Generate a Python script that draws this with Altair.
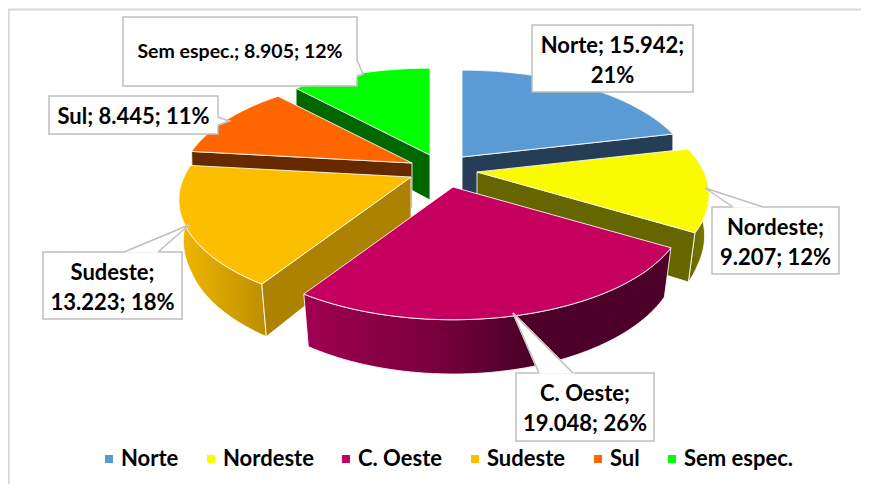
import math
import altair as alt
import pandas as pd

names = ["Norte", "Nordeste", "C. Oeste", "Sudeste", "Sul", "Sem espec."]
values = [15942, 9207, 19048, 13223, 8445, 8905]
face_colors = ["#5B9BD5", "#FAFA00", "#C6005F", "#FBBF00", "#FF6600", "#00FF00"]
wall_colors = ["#253E55", "#666600", "#4D0028", "#AD8200", "#662900", "#006600"]
label_lines = [
    ["Norte; 15.942;", "21%"],
    ["Nordeste;", "9.207; 12%"],
    ["C. Oeste;", "19.048; 26%"],
    ["Sudeste;", "13.223; 18%"],
    ["Sul; 8.445; 11%"],
    ["Sem espec.; 8.905; 12%"],
]
label_sizes = [22, 22, 22, 22, 22, 19.5]

# layout (page pixels)
apex = [(462, 157), (477, 172), (453, 187), (411, 177), (412, 163), (430, 155)]
boxes = [(532, 25, 693, 92), (712, 207, 839, 274), (516, 373, 654, 441),
         (43, 252, 182, 319), (49, 96, 218, 134), (123, 17, 357, 86)]
wedges = [None, [(763, 207), (705, 188), (733, 207)], [(539, 373), (513, 313), (573, 373)],
          [(124, 252), (189, 225), (158, 252)], [(218, 117), (229, 121), (218, 125)],
          [(357, 60), (363, 74), (357, 76)]]
draw_order = [5, 0, 4, 1, 3, 2]
rim_gradients = {
    2: [(0, "#A00050"), (0.38, "#75003B"), (0.6, "#4D0028"), (1, "#4D0028")],
    3: [(0, "#F2B600"), (0.6, "#D0A000"), (1, "#BC8E00")],
    1: [(0, "#666600"), (1, "#7C7C00")],
}
A, B, K, D = 227, 105, 0.209, 45
W, H = 853, 476
FONT = "Lato"

x_scale = alt.Scale(domain=[8, 8 + W], range=[0, W], zero=False, nice=False)
y_scale = alt.Scale(domain=[8 + H, 8], range=[H, 0], zero=False, nice=False)
X = alt.X("x:Q", scale=x_scale, axis=None)
Y = alt.Y("y:Q", scale=y_scale, axis=None)


def rim(ax, ay, th, bottom=False):
    s, c = math.sin(th), -math.cos(th)
    f = 1 / (1 - K * c)
    x, y = A * s * f, B * c * f
    if bottom:
        x *= 1 - 0.03 * min(1, max(0, (c + 0.2) / 0.6))
        y = y * 1.07 + D
    return ax + x, ay + y


def arc(ax, ay, t0, t1, bottom=False):
    n = max(2, int(abs(t1 - t0) / math.radians(1.5)))
    return [rim(ax, ay, t0 + (t1 - t0) * i / n, bottom) for i in range(n + 1)]


def frame(points):
    return pd.DataFrame({"x": [p[0] for p in points], "y": [p[1] for p in points], "i": range(len(points))})


def poly(points, **mark):
    return alt.Chart(frame(list(points) + [points[0]])).mark_line(**mark).encode(x=X, y=Y, order="i:Q")


total = sum(values)
starts = []
acc = 0
for v in values:
    starts.append(acc / total * 2 * math.pi)
    acc += v

layers = []
edge = dict(stroke="#FFFFFF", strokeWidth=1, strokeOpacity=0.85, strokeJoin="round")

# frame
layers.append(alt.Chart(frame([(8.7, 484), (8.7, 9.5), (861, 9.5)]))
              .mark_line(stroke="#D9D9D9", strokeWidth=2).encode(x=X, y=Y, order="i:Q"))

for k in draw_order:
    ax, ay = apex[k]
    t0 = starts[k]
    t1 = t0 + values[k] / total * 2 * math.pi
    top = arc(ax, ay, t0, t1)
    low = arc(ax, ay, t0, t1, True)
    wall_fill = wall_colors[k]
    if k in rim_gradients:
        wall_fill = alt.Gradient(gradient="linear", x1=0, x2=1, y1=0, y2=0,
                                 stops=[alt.GradientStop(offset=o, color=c) for o, c in rim_gradients[k]])
    layers.append(poly(top + low[::-1], fill=wall_fill, **edge))
    if math.sin(t0) < -0.01:
        layers.append(poly([(ax, ay), top[0], low[0], (ax, ay + D)], fill=wall_colors[k], **edge))
    if math.sin(t1) > 0.01:
        layers.append(poly([(ax, ay), top[-1], low[-1], (ax, ay + D)], fill=wall_colors[k], **edge))
    face = frame([(ax, ay)] + top + [(ax, ay)])
    face["slice"] = names[k]
    layers.append(alt.Chart(face).mark_line(**edge).encode(
        x=X, y=Y, order="i:Q",
        fill=alt.Fill("slice:N", scale=alt.Scale(domain=names, range=face_colors),
                      legend=alt.Legend(orient="none", legendX=90, legendY=440, direction="horizontal",
                                        columns=6, title=None, symbolType="square", symbolSize=64,
                                        symbolStrokeWidth=0, labelFont=FONT, labelFontWeight="bold",
                                        labelFontSize=22, labelColor="#000000", labelOffset=1,
                                        columnPadding=21, gridAlign="each")),
    ))

# callouts
box_df = pd.DataFrame(boxes, columns=["x", "y", "x2", "y2"])
layers.append(alt.Chart(box_df).mark_rect(fill="#FFFFFF", stroke="#BFBFBF", strokeWidth=1.5).encode(
    x=X, x2="x2:Q", y=Y, y2="y2:Q"))
for w in wedges:
    if w:
        layers.append(poly(w, fill="#FFFFFF", stroke="#FFFFFF", strokeWidth=1.5))
        layers.append(alt.Chart(frame(w)).mark_line(stroke="#BFBFBF", strokeWidth=1.5).encode(x=X, y=Y, order="i:Q"))
rows = []
for (x, y, x2, y2), lines, size in zip(boxes, label_lines, label_sizes):
    cy = (y + y2) / 2 + (2 if size == 22 else 0)
    for j, t in enumerate(lines):
        rows.append({"x": (x + x2) / 2, "y": cy + (j - (len(lines) - 1) / 2) * 30, "t": t, "s": size})
layers.append(alt.Chart(pd.DataFrame(rows)).mark_text(font=FONT, fontWeight="bold", color="#000000",
                                                      align="center", baseline="middle").encode(
    x=X, y=Y, text="t:N", size=alt.Size("s:Q", scale=None, legend=None)))

chart = alt.layer(*layers).properties(
    width=W, height=H, padding=0, autosize=alt.AutoSizeParams(type="none"), background="#FFFFFF"
).configure_view(stroke=None)
chart.save("out.html", embed_options={"renderer": "svg", "actions": False})
